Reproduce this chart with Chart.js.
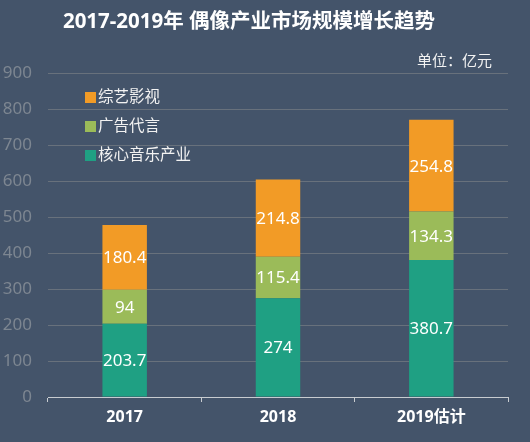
<!DOCTYPE html>
<html><head><meta charset="utf-8">
<script src="https://cdn.jsdelivr.net/npm/chart.js@4.4.0/dist/chart.umd.min.js"></script>
<style>html,body{margin:0;padding:0;background:#44546a;}#wrap{width:530px;height:442px;}</style>
</head><body><div id="wrap"><canvas id="c" width="530" height="442"></canvas></div>
<script>
const categories = ['2017', '2018', '2019估计'];
const coreMusic = [203.7, 274, 380.7];
const advertising = [94, 115.4, 134.3];
const filmTv = [180.4, 214.8, 254.8];
const seriesNames = ['核心音乐产业', '广告代言', '综艺影视'];
const yTicks = [0, 100, 200, 300, 400, 500, 600, 700, 800, 900];
const titleText = '2017-2019年 偶像产业市场规模增长趋势';
const unitText = '单位：亿元';

const FONT = '"Noto Sans", "Noto Sans CJK SC", sans-serif';

const bgPlugin = {
  id: 'bg',
  beforeDraw(chart) {
    const ctx = chart.ctx;
    ctx.save();
    ctx.fillStyle = '#44546a';
    ctx.fillRect(0, 0, chart.width, chart.height);
    ctx.restore();
  }
};

const decorPlugin = {
  id: 'decor',
  afterDraw(chart) {
    const ctx = chart.ctx;
    ctx.save();
    ctx.fillStyle = '#ffffff';
    ctx.textAlign = 'center';
    ctx.textBaseline = 'middle';
    ctx.font = 'bold 20.5px ' + FONT;
    ctx.fillText(titleText, 249, 22);
    ctx.font = '15px ' + FONT;
    ctx.textAlign = 'right';
    ctx.fillStyle = '#f2f2f2';
    ctx.fillText(unitText, 492, 62);
    const ds = chart.data.datasets;
    const order = [2, 1, 0];
    order.forEach((di, i) => {
      const y = 97 + i * 29;
      ctx.fillStyle = ds[di].backgroundColor;
      ctx.fillRect(85, y - 5, 11, 11);
      ctx.fillStyle = '#f2f2f2';
      ctx.textAlign = 'left';
      ctx.font = '15.5px ' + FONT;
      ctx.fillText(ds[di].label, 98, y + 1);
    });
    ctx.font = '17px ' + FONT;
    ctx.textAlign = 'center';
    ctx.fillStyle = '#ffffff';
    ds.forEach((d, di) => {
      const meta = chart.getDatasetMeta(di);
      meta.data.forEach((bar, i) => {
        const yc = (bar.y + bar.base) / 2;
        ctx.fillText(String(d.data[i]), bar.x, yc + 1);
      });
    });
    ctx.restore();
  }
};

new Chart(document.getElementById('c'), {
  type: 'bar',
  data: {
    labels: categories,
    datasets: [
      { label: seriesNames[0], data: coreMusic, backgroundColor: '#1fa083' },
      { label: seriesNames[1], data: advertising, backgroundColor: '#9bbb59' },
      { label: seriesNames[2], data: filmTv, backgroundColor: '#f29b26' }
    ]
  },
  options: {
    responsive: false,
    animation: false,
    devicePixelRatio: 1,
    layout: { padding: { top: 73, right: 22, bottom: 0, left: 0 } },
    datasets: { bar: { barPercentage: 0.29, categoryPercentage: 1 } },
    plugins: { legend: { display: false }, title: { display: false }, tooltip: { enabled: false } },
    scales: {
      x: {
        stacked: true,
        grid: { display: true, drawOnChartArea: false, drawTicks: true, tickLength: 5, color: '#c8ccd0', offset: true },
        border: { display: true, color: '#c8ccd0', width: 1 },
        ticks: { color: '#ffffff', font: { family: FONT, size: 16, weight: 'bold' }, padding: 6 },
        afterFit(s) { s.height = 45; }
      },
      y: {
        stacked: true,
        min: 0, max: 900,
        afterBuildTicks(s) { s.ticks = yTicks.map(v => ({ value: v })); },
        grid: { color: '#68717c', lineWidth: 1, drawTicks: false },
        border: { display: false },
        ticks: { color: '#7d8691', font: { family: FONT, size: 17 }, padding: 16 },
        afterFit(s) { s.width = 48; }
      }
    }
  },
  plugins: [bgPlugin, decorPlugin]
});
</script></body></html>
